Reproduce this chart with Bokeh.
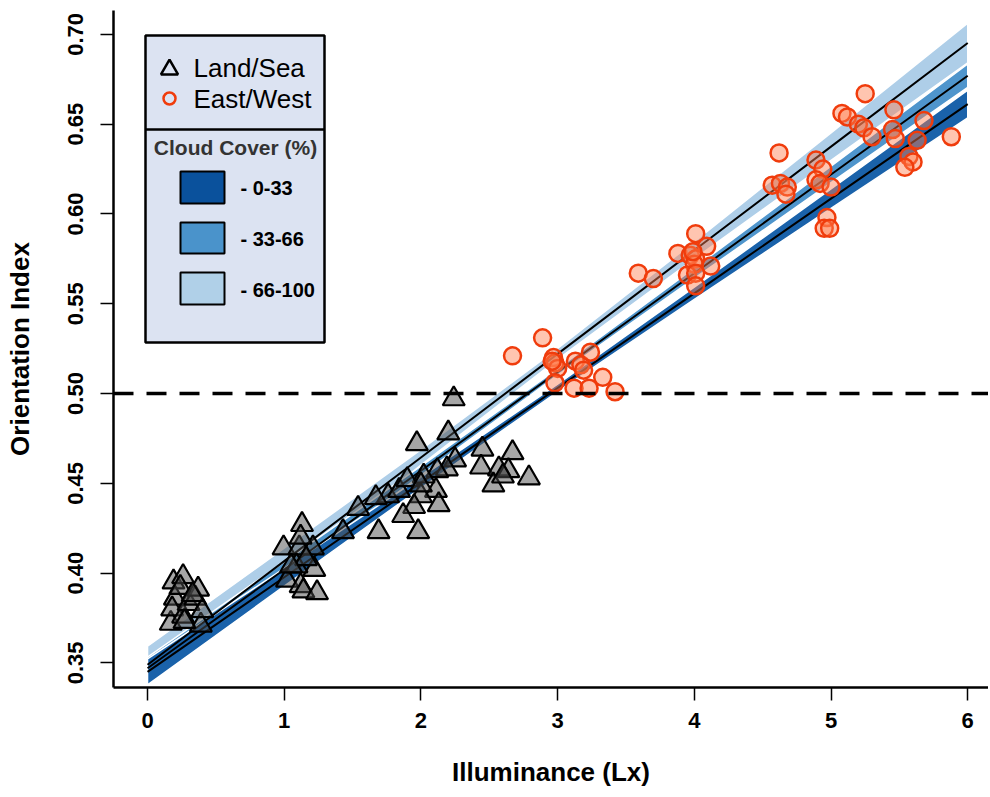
from bokeh.plotting import figure
from bokeh.models import Range1d, FixedTicker, Span, NumeralTickFormatter
from bokeh.embed import file_html
from bokeh.resources import INLINE
from bokeh.core.properties import value

# ---------------- data ----------------
land_x = [0.17, 0.19, 0.20, 0.26, 0.24, 0.18, 0.26, 0.30, 0.35, 0.37, 0.39, 0.40, 0.27, 0.33,
          0.995, 1.13, 1.11, 1.21, 1.02, 1.12, 1.14, 1.24, 1.22, 1.09, 1.16, 1.05, 1.12,
          2.24, 2.20, 1.97, 2.45, 2.67, 2.25, 2.44, 2.57, 2.64, 2.79, 2.53, 2.60, 2.19, 2.12,
          2.02, 2.11, 2.13, 2.00, 1.95, 1.87, 1.98, 1.69, 1.76, 1.67, 1.54, 1.43, 1.84, 1.90, 2.00]
land_y = [0.372, 0.395, 0.386, 0.398, 0.392, 0.380, 0.376, 0.383, 0.386, 0.391, 0.371, 0.379, 0.373, 0.388,
          0.414, 0.427, 0.414, 0.414, 0.396, 0.393, 0.390, 0.389, 0.402, 0.404, 0.408, 0.404, 0.420,
          0.497, 0.478, 0.472, 0.469, 0.467, 0.463, 0.459, 0.458, 0.457, 0.453, 0.449, 0.454, 0.458, 0.457,
          0.454, 0.446, 0.438, 0.443, 0.437, 0.432, 0.423, 0.423, 0.443, 0.442, 0.436, 0.423, 0.446, 0.452, 0.449]

east_x = [2.89, 2.67, 2.97, 2.98, 3.00, 2.96, 2.98, 3.13, 3.17, 3.24, 3.19, 3.33, 3.12, 3.23, 3.42,
          3.59, 3.70, 4.01, 4.09, 3.88, 3.97, 4.01, 4.00, 4.12, 3.95, 4.01, 4.01, 3.99,
          5.25, 4.62, 5.08, 5.12, 5.46, 5.68, 5.88, 5.20, 5.24, 5.30, 5.45, 5.47, 5.63, 5.57, 5.60, 5.54,
          4.89, 4.94, 4.89, 4.92, 5.00, 4.57, 4.63, 4.68, 4.67, 4.97, 4.95, 4.99]
east_y = [0.531, 0.521, 0.520, 0.517, 0.514, 0.518, 0.506, 0.518, 0.516, 0.523, 0.513, 0.509, 0.503, 0.503, 0.501,
          0.567, 0.564, 0.589, 0.582, 0.578, 0.577, 0.575, 0.572, 0.571, 0.566, 0.567, 0.560, 0.579,
          0.667, 0.634, 0.656, 0.654, 0.658, 0.652, 0.643, 0.650, 0.648, 0.643, 0.647, 0.642, 0.641, 0.632, 0.629, 0.626,
          0.630, 0.625, 0.619, 0.617, 0.615, 0.616, 0.617, 0.615, 0.611, 0.598, 0.592, 0.592]

fit_x = [0, 1, 2, 3, 4, 5, 6]
# cloud cover 66-100
fit_hi = [0.3490, 0.4067, 0.4644, 0.5221, 0.5798, 0.6375, 0.6952]
hi_upper = [0.3593, 0.4139, 0.4687, 0.5251, 0.5846, 0.6452, 0.7062]
hi_lower = [0.3387, 0.3995, 0.4601, 0.5191, 0.5750, 0.6298, 0.6842]
# cloud cover 33-66
fit_mid = [0.3470, 0.4020, 0.4570, 0.5120, 0.5670, 0.6220, 0.6770]
mid_upper = [0.3532, 0.4063, 0.4596, 0.5138, 0.5699, 0.6266, 0.6835]
mid_lower = [0.3408, 0.3977, 0.4544, 0.5102, 0.5641, 0.6174, 0.6705]
# cloud cover 0-33
fit_lo = [0.3450, 0.3977, 0.4504, 0.5031, 0.5558, 0.6085, 0.6612]
lo_upper = [0.3522, 0.4027, 0.4534, 0.5052, 0.5592, 0.6139, 0.6689]
lo_lower = [0.3378, 0.3927, 0.4474, 0.5010, 0.5524, 0.6031, 0.6535]

threshold = 0.5
x_ticks = [0, 1, 2, 3, 4, 5, 6]
y_ticks = [0.35, 0.40, 0.45, 0.50, 0.55, 0.60, 0.65, 0.70]

series_labels = ["Land/Sea", "East/West"]
cloud_title = "Cloud Cover (%)"
cloud_labels = ["- 0-33", "- 33-66", "- 66-100"]

# ---------------- styles ----------------
C_DARK = "#1a62aa"
C_MED = "#4f95cc"
C_LIGHT = "#aecee8"
SW_DARK = "#0a519c"
SW_MED = "#4a93cb"
SW_LIGHT = "#b0d0e8"
FONT = "Liberation Sans"

FW, FH = 875, 677  # frame size in px
p = figure(width=988, height=795, output_backend="svg", toolbar_location=None,
           x_range=Range1d(-0.249, 6.152), y_range=Range1d(0.3363, 0.7133),
           min_border_left=113, min_border_right=0, min_border_top=10, min_border_bottom=108,
           background_fill_color="white", border_fill_color="white")
p.outline_line_color = None
p.grid.visible = False

# confidence bands
for up, lo, col in [(hi_upper, hi_lower, C_LIGHT), (mid_upper, mid_lower, C_MED), (lo_upper, lo_lower, C_DARK)]:
    p.patch(x=fit_x + fit_x[::-1], y=up + lo[::-1], fill_color=col, line_color="white", line_width=1.5)
for f in [fit_hi, fit_mid, fit_lo]:
    p.line(x=fit_x, y=f, line_color="black", line_width=2)

p.add_layout(Span(location=threshold, dimension="width", line_color="black",
                  line_width=3.5, line_dash="20 13"))

p.scatter(x=land_x, y=land_y, marker="triangle", size=22, fill_color="#4d4d4d", fill_alpha=0.5,
          line_color="black", line_width=2.2)
p.scatter(x=east_x, y=east_y, marker="circle", size=17, fill_color="#ff7f50", fill_alpha=0.45,
          line_color="#f03c0c", line_width=2.5)

# ---------------- legend (frame pixel coordinates) ----------------
p.extra_x_ranges = {"lx": Range1d(0, FW)}
p.extra_y_ranges = {"ly": Range1d(FH, 0)}
L = dict(x_range_name="lx", y_range_name="ly")
p.quad(left=[32], right=[211], top=[25], bottom=[332], fill_color="#dce3f2",
       line_color="black", line_width=2.5, **L)
p.segment(x0=[32], x1=[211], y0=[119], y1=[119], line_color="black", line_width=2.5, **L)
p.scatter(x=[56], y=[59], marker="triangle", size=17, fill_color=None, line_color="black",
          line_width=2.5, **L)
p.scatter(x=[56], y=[88], marker="circle", size=12, fill_color=None, line_color="#f03c0c",
          line_width=2.5, **L)
p.text(x=[80, 80], y=[57, 88], text=series_labels, text_font=value(FONT), text_font_size="26px",
       text_baseline="middle", text_align="left", text_color="black", **L)
p.text(x=[122], y=[137], text=[cloud_title], text_font=value(FONT), text_font_size="21px",
       text_font_style="bold", text_baseline="middle", text_align="center", text_color="#333333", **L)
p.quad(left=[67, 67, 67], right=[111, 111, 111], top=[161, 212, 262], bottom=[193, 243, 294],
       fill_color=[SW_DARK, SW_MED, SW_LIGHT], line_color="black", line_width=2, **L)
p.text(x=[127, 127, 127], y=[177, 228, 279], text=cloud_labels, text_font=value(FONT),
       text_font_size="20px", text_font_style="bold", text_baseline="middle", text_align="left",
       text_color="black", **L)

# ---------------- axes ----------------
p.xaxis.ticker = FixedTicker(ticks=x_ticks)
p.yaxis.ticker = FixedTicker(ticks=y_ticks)
p.yaxis.formatter = NumeralTickFormatter(format="0.00")
p.yaxis.major_label_orientation = "vertical"
p.xaxis.axis_label = "Illuminance (Lx)"
p.yaxis.axis_label = "Orientation Index"
for ax in [p.xaxis, p.yaxis]:
    ax.axis_line_width = 2.5
    ax.axis_line_color = "black"
    ax.major_tick_line_width = 1.5
    ax.major_tick_line_color = "black"
    ax.major_tick_out = 13
    ax.major_tick_in = 0
    ax.minor_tick_out = 0
    ax.minor_tick_in = 0
    ax.major_label_text_font = FONT
    ax.major_label_text_font_size = "22px"
    ax.major_label_text_font_style = "bold"
    ax.major_label_text_color = "black"
    ax.axis_label_text_font = FONT
    ax.axis_label_text_font_size = "26px"
    ax.axis_label_text_font_style = "bold"
    ax.axis_label_text_color = "black"
p.xaxis.major_label_standoff = 12
p.xaxis.axis_label_standoff = 26
p.yaxis.major_label_standoff = 17
p.yaxis.axis_label_standoff = 31

open("out.html", "w").write(file_html(p, INLINE))
